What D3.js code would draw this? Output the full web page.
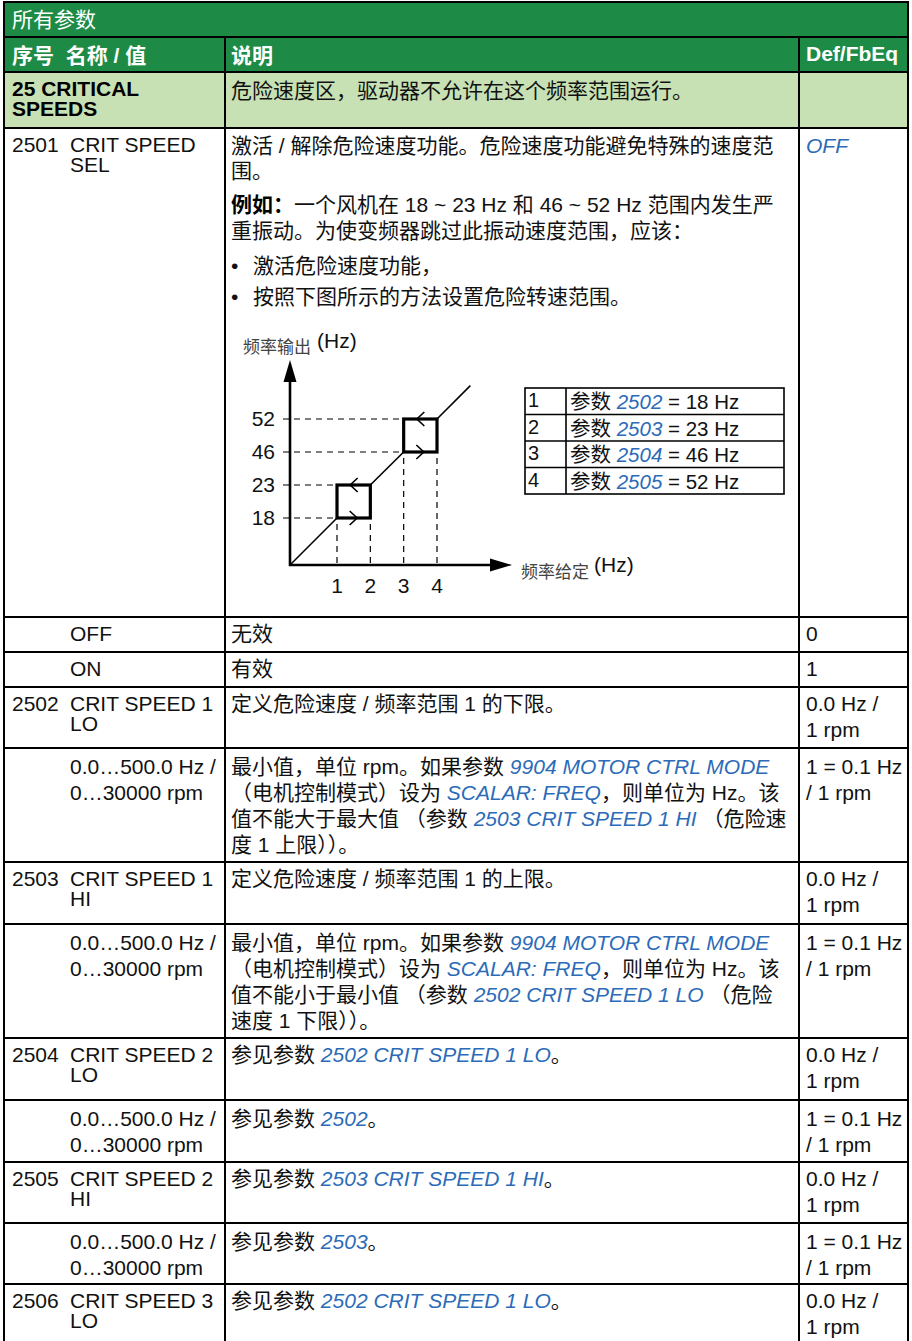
<!DOCTYPE html>
<html><head><meta charset="utf-8">
<script src="https://cdn.jsdelivr.net/npm/d3@7"></script>
<style>
html,body{margin:0;padding:0;background:#fff;}
svg text{font-family:"Liberation Sans",Arial,"Noto Sans CJK SC",sans-serif;}
</style></head>
<body><svg id="c" width="912" height="1341"></svg>
<script>
// ---------- data ----------
const titleText = "所有参数";
const headerCols = ["序号  名称 / 值", "说明", "Def/FbEq"];
const groupId = ["25 CRITICAL", "SPEEDS"];
const groupDesc = "危险速度区，驱动器不允许在这个频率范围运行。";

// diagram data
const inputPoints = ["1", "2", "3", "4"];          // x tick labels (frequency reference points)
const outputValues = [18, 23, 46, 52];              // y tick labels (Hz)
const legendParams = ["2502", "2503", "2504", "2505"];
const legendHz = [18, 23, 46, 52];

// segments: [text, style]  style: n = normal, b = bold, l = blue italic link
const row2501Desc = [
  [["激活 / 解除危险速度功能。危险速度功能避免特殊的速度范","n"]],
  [["围。","n"]],
  [["例如：","b"],["一个风机在 18 ~ 23 Hz 和 46 ~ 52 Hz 范围内发生严","n"]],
  [["重振动。为使变频器跳过此振动速度范围，应该：","n"]],
  [["激活危险速度功能，","n"]],
  [["按照下图所示的方法设置危险转速范围。","n"]]
];

const tableRows = [
  {id:"", name:["OFF"], desc:[[["无效","n"]]], def:["0"]},
  {id:"", name:["ON"], desc:[[["有效","n"]]], def:["1"]},
  {id:"2502", name:["CRIT SPEED 1","LO"], desc:[[["定义危险速度 / 频率范围 1 的下限。","n"]]], def:["0.0 Hz /","1 rpm"]},
  {id:"", range:["0.0…500.0 Hz /","0…30000 rpm"], desc:[
    [["最小值，单位 rpm。如果参数 ","n"],["9904 MOTOR CTRL MODE","l"]],
    [["（电机控制模式）设为 ","n"],["SCALAR: FREQ","l"],["，则单位为 Hz。该","n"]],
    [["值不能大于最大值 （参数 ","n"],["2503 CRIT SPEED 1 HI","l"],[" （危险速","n"]],
    [["度 1 上限））。","n"]]], def:["1 = 0.1 Hz","/ 1 rpm"]},
  {id:"2503", name:["CRIT SPEED 1","HI"], desc:[[["定义危险速度 / 频率范围 1 的上限。","n"]]], def:["0.0 Hz /","1 rpm"]},
  {id:"", range:["0.0…500.0 Hz /","0…30000 rpm"], desc:[
    [["最小值，单位 rpm。如果参数 ","n"],["9904 MOTOR CTRL MODE","l"]],
    [["（电机控制模式）设为 ","n"],["SCALAR: FREQ","l"],["，则单位为 Hz。该","n"]],
    [["值不能小于最小值 （参数 ","n"],["2502 CRIT SPEED 1 LO","l"],[" （危险","n"]],
    [["速度 1 下限））。","n"]]], def:["1 = 0.1 Hz","/ 1 rpm"]},
  {id:"2504", name:["CRIT SPEED 2","LO"], desc:[[["参见参数 ","n"],["2502 CRIT SPEED 1 LO","l"],["。","n"]]], def:["0.0 Hz /","1 rpm"]},
  {id:"", range:["0.0…500.0 Hz /","0…30000 rpm"], desc:[[["参见参数 ","n"],["2502","l"],["。","n"]]], def:["1 = 0.1 Hz","/ 1 rpm"]},
  {id:"2505", name:["CRIT SPEED 2","HI"], desc:[[["参见参数 ","n"],["2503 CRIT SPEED 1 HI","l"],["。","n"]]], def:["0.0 Hz /","1 rpm"]},
  {id:"", range:["0.0…500.0 Hz /","0…30000 rpm"], desc:[[["参见参数 ","n"],["2503","l"],["。","n"]]], def:["1 = 0.1 Hz","/ 1 rpm"]},
  {id:"2506", name:["CRIT SPEED 3","LO"], desc:[[["参见参数 ","n"],["2502 CRIT SPEED 1 LO","l"],["。","n"]]], def:["0.0 Hz /","1 rpm"]}
];

// ---------- layout ----------
const W = 912, H = 1341;
const FS = 21;
const GREEN = "#1d8b46", LGREEN = "#c7e1b4", BLUE = "#2b6bb8", INK = "#111";
const xL = 4, xC1 = 225, xC2 = 799, xR = 908;
const lines = [2, 37, 72, 128, 617, 652, 687, 748, 862, 924, 1038, 1100, 1162, 1223, 1284];
const rowTops = lines.slice(4); // tops of tableRows
const svg = d3.select("#c");

function seg(sel, segs, x, y, size) {
  const t = sel.append("text").attr("x", x).attr("y", y).attr("font-size", size || FS).attr("fill", INK);
  segs.forEach(([s, st]) => {
    const ts = t.append("tspan").text(s);
    if (st === "b") ts.attr("font-weight", "bold").attr("fill", "#000");
    if (st === "l") ts.attr("font-style", "italic").attr("fill", BLUE);
  });
  t.style("white-space", "pre");
  return t;
}
function txt(x, y, s, opts) {
  const t = svg.append("text").attr("x", x).attr("y", y).attr("font-size", (opts && opts.size) || FS)
    .attr("fill", (opts && opts.fill) || INK).text(s).style("white-space", "pre");
  if (opts && opts.bold) t.attr("font-weight", "bold");
  if (opts && opts.italic) t.attr("font-style", "italic");
  if (opts && opts.anchor) t.attr("text-anchor", opts.anchor);
  return t;
}

// backgrounds
svg.append("rect").attr("x", xL).attr("y", 2).attr("width", xR - xL).attr("height", 70).attr("fill", GREEN);
svg.append("rect").attr("x", xL).attr("y", 72).attr("width", xR - xL).attr("height", 56).attr("fill", LGREEN);

// grid lines
const grid = svg.append("g").attr("stroke", "#000").attr("stroke-width", 2);
lines.forEach(y => grid.append("line").attr("x1", xL - 1).attr("x2", xR + 1).attr("y1", y).attr("y2", y));
grid.append("line").attr("x1", xL).attr("x2", xL).attr("y1", 1).attr("y2", H);
grid.append("line").attr("x1", xR).attr("x2", xR).attr("y1", 1).attr("y2", H);
[xC1, xC2].forEach(x => grid.append("line").attr("x1", x).attr("x2", x).attr("y1", 37).attr("y2", H));

// title & header
txt(12, 27, titleText, {fill: "#fff"});
txt(12, 63, headerCols[0], {fill: "#fff", bold: true});
txt(231, 63, headerCols[1], {fill: "#fff", bold: true});
txt(806, 61, headerCols[2], {fill: "#fff", bold: true});

// group row
txt(12, 96, groupId[0], {bold: true, fill: "#000"});
txt(12, 116, groupId[1], {bold: true, fill: "#000"});
txt(231, 98, groupDesc);

// 2501 row
txt(12, 152, "2501"); txt(70, 152, "CRIT SPEED"); txt(70, 172, "SEL");
txt(806, 153, "OFF", {italic: true, fill: BLUE});
const descY2501 = [153, 178, 212, 238, 273, 304];
row2501Desc.forEach((l, i) => {
  if (i >= 4) { txt(231, descY2501[i], "•"); seg(svg, l, 253, descY2501[i]); }
  else seg(svg, l, 231, descY2501[i]);
});

// other rows
tableRows.forEach((r, i) => {
  const top = rowTops[i];
  if (r.id) txt(12, top + 24, r.id);
  if (r.name) r.name.forEach((n, k) => txt(70, top + 24 + k * 20, n));
  if (r.range) r.range.forEach((n, k) => txt(70, top + 26 + k * 26, n));
  const b = r.range ? top + 26 : top + 24;
  r.desc.forEach((l, k) => seg(svg, l, 231, b + k * 26));
  r.def.forEach((d, k) => txt(806, b + k * 26, d));
});

// ---------- diagram ----------
const g = svg.append("g");
const ox = 290, oy = 565;
const x = d3.scalePoint().domain(inputPoints).range([337, 437]);
const y = d3.scalePoint().domain(outputValues).range([518, 419]);
const step = x.step();

// dashed guides
const dash = g.append("g").attr("stroke", "#000").attr("stroke-width", 1.2).attr("stroke-dasharray", "6,5").attr("fill", "none");
outputValues.forEach((v, i) => {
  const xe = i < 2 ? x(inputPoints[0]) : x(inputPoints[2]);
  dash.append("line").attr("x1", ox - 7).attr("x2", xe).attr("y1", y(v)).attr("y2", y(v));
});
inputPoints.forEach((p, i) => {
  const ys = i < 2 ? y(outputValues[0]) : y(outputValues[2]);
  dash.append("line").attr("x1", x(p)).attr("x2", x(p)).attr("y1", ys + 6).attr("y2", oy);
});

// diagonal characteristic
const diag = g.append("g").attr("stroke", "#000").attr("stroke-width", 1.6).attr("fill", "none");
const segsD = [
  [[ox, oy], [x(inputPoints[0]), y(outputValues[0])]],
  [[x(inputPoints[1]), y(outputValues[1])], [x(inputPoints[2]), y(outputValues[2])]],
  [[x(inputPoints[3]), y(outputValues[3])], [x(inputPoints[3]) + step, y(outputValues[3]) - step]]
];
segsD.forEach(s => diag.append("path").attr("d", d3.line()(s)));

// hysteresis boxes
[[0, 1], [2, 3]].forEach(([a, b]) => {
  const x1 = x(inputPoints[a]), x2 = x(inputPoints[b]);
  const yb = y(outputValues[a]), yt = y(outputValues[b]);
  g.append("rect").attr("x", x1).attr("y", yt).attr("width", x2 - x1).attr("height", yb - yt)
    .attr("fill", "none").attr("stroke", "#000").attr("stroke-width", 3.2);
  const cx = (x1 + x2) / 2;
  diag.append("path").attr("d", d3.line()([[cx - 4, yb - 7], [cx + 3.5, yb], [cx - 4, yb + 7]]));
  diag.append("path").attr("d", d3.line()([[cx + 4, yt - 7], [cx - 3.5, yt], [cx + 4, yt + 7]]));
});

// axes
const ax = g.append("g").attr("stroke", "#000").attr("stroke-width", 2.6);
ax.append("line").attr("x1", ox).attr("x2", ox).attr("y1", oy + 1).attr("y2", 378);
ax.append("line").attr("x1", ox - 1).attr("x2", 494).attr("y1", oy).attr("y2", oy);
g.append("path").attr("d", d3.line()([[ox, 360], [ox - 6.5, 382], [ox + 6.5, 382]]) + "Z").attr("fill", "#000");
g.append("path").attr("d", d3.line()([[512, oy], [490, oy - 6.5], [490, oy + 6.5]]) + "Z").attr("fill", "#000");

// tick labels
outputValues.forEach(v => txt(275, y(v) + 7, String(v), {anchor: "end"}));
inputPoints.forEach(p => txt(x(p), 593, p, {anchor: "middle"}));

// axis titles
txt(243, 353, "频率输出", {size: 17, fill: "#444"});
txt(317, 348, "(Hz)");
txt(521, 578, "频率给定", {size: 17, fill: "#444"});
txt(594, 572, "(Hz)");

// legend table
const lg = g.append("g");
const lx = 525, ly = 388, lw = 259, lrh = 26.5;
lg.append("rect").attr("x", lx).attr("y", ly).attr("width", lw).attr("height", lrh * 4)
  .attr("fill", "none").attr("stroke", "#000").attr("stroke-width", 1.6);
legendParams.forEach((p, i) => {
  const t = ly + i * lrh;
  if (i > 0) lg.append("line").attr("x1", lx).attr("x2", lx + lw).attr("y1", t).attr("y2", t).attr("stroke", "#000").attr("stroke-width", 1.6);
  txt(lx + 3, t + 19, String(i + 1), {size: 20});
  seg(svg, [["参数 ", "n"], [p, "l"], [" = " + legendHz[i] + " Hz", "n"]], lx + 45, t + 21, 20.5);
});
lg.append("line").attr("x1", 566).attr("x2", 566).attr("y1", ly).attr("y2", ly + lrh * 4).attr("stroke", "#000").attr("stroke-width", 1.6);
</script></body></html>
